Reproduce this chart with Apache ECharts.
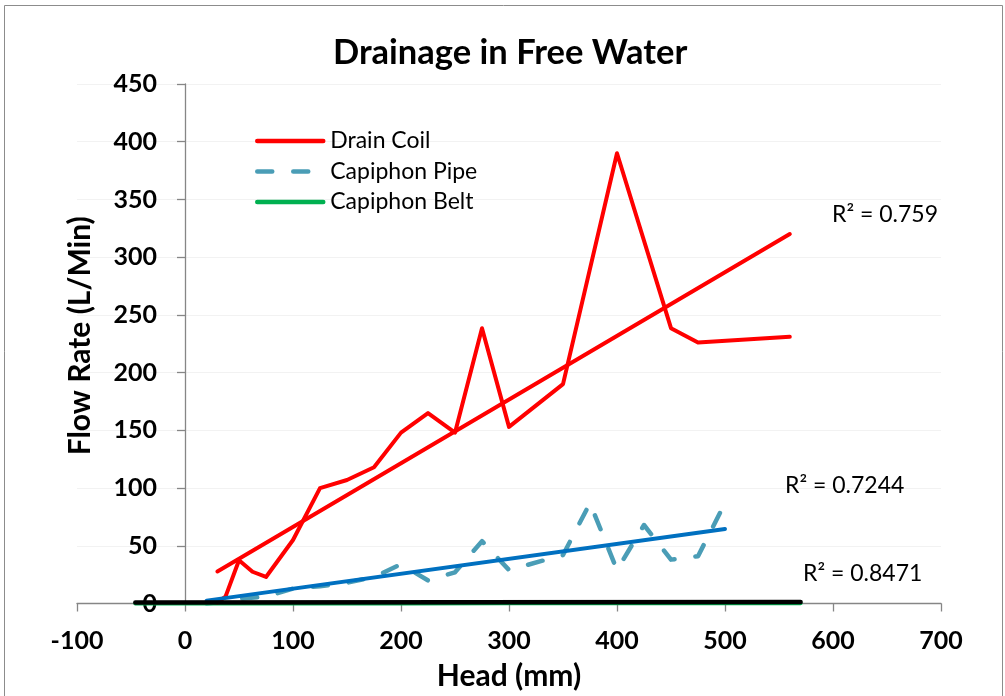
<!DOCTYPE html>
<html>
<head>
<meta charset="utf-8">
<script src="https://cdn.jsdelivr.net/npm/echarts@6/dist/echarts.min.js"></script>
<style>
html,body{margin:0;padding:0;background:#fff;}
#chart{width:1005px;height:696px;}
</style>
</head>
<body>
<div id="chart"></div>
<script>
// ---- data ----
const headCoil = [30, 37.5, 50, 62.5, 75, 100, 125, 150, 175, 200, 225, 250, 275, 300, 350, 400, 450, 475, 560];
const flowCoil = [1, 6, 37.5, 27.5, 23, 55, 100, 107, 118, 148, 165, 148, 238.5, 153, 190, 390, 238.5, 226, 231];

const headPipe = [20, 37.5, 50, 75, 100, 125, 150, 175, 200, 225, 250, 275, 300, 350, 375, 400, 425, 450, 475, 500];
const flowPipe = [0, 2, 4, 6, 13, 15, 18, 23, 34, 20, 27, 54, 29, 42, 87, 29, 68, 38, 41, 87];

const headBelt = [-46, 0, 50, 100, 200, 300, 400, 500, 570];
const flowBelt = [0, 0, 0, 0.1, 0.1, 0.2, 0.2, 0.3, 0.3];

// trendline end points (as drawn in the reference)
const trendCoilX = [30, 560];
const trendCoilY = [27.8, 320];
const trendPipeX = [20, 500];
const trendPipeY = [2.5, 64.6];
const trendBeltX = [-46, 570];
const trendBeltY = [0.8, 1.3];

const r2Labels = ['R² = 0.759', 'R² = 0.7244', 'R² = 0.8471'];
const seriesNames = ['Drain Coil', 'Capiphon Pipe', 'Capiphon Belt'];

const xTicks = {min: -100, max: 700, interval: 100};
const yTicks = {min: 0, max: 450, interval: 50};

function pairs(xs, ys) { return xs.map((x, i) => [x, ys[i]]); }

const FONT = 'Lato, "Open Sans", sans-serif';
const GRID_LEFT = 77, GRID_RIGHT = 941;
// y axis sits at x = 0 (Excel style); offset it from the grid's left edge
const yAxisOffset = -(GRID_RIGHT - GRID_LEFT) * (0 - xTicks.min) / (xTicks.max - xTicks.min);

const chart = echarts.init(document.getElementById('chart'), null, {renderer: 'canvas'});

const option = {
  animation: false,
  backgroundColor: '#ffffff',
  title: {
    text: 'Drainage in Free Water',
    left: 333,
    top: 35,
    padding: 0,
    textStyle: {fontFamily: FONT, fontSize: 34.5, fontWeight: 'bold', color: '#000'}
  },
  legend: {
    orient: 'vertical',
    left: 255,
    top: 129,
    padding: 0,
    itemWidth: 66,
    itemHeight: 14,
    itemGap: 6.5,
    data: seriesNames,
    itemStyle: {opacity: 0},
    lineStyle: {width: 4.5, cap: 'round'},
    textStyle: {fontFamily: FONT, fontSize: 23, lineHeight: 24, color: '#000', padding: [0, 0, 0, 2]}
  },
  grid: {left: GRID_LEFT, right: 1005 - GRID_RIGHT, top: 84, bottom: 92.5, containLabel: false, outerBoundsMode: 'none'},
  xAxis: {
    type: 'value',
    min: xTicks.min, max: xTicks.max, interval: xTicks.interval,
    name: 'Head (mm)',
    nameLocation: 'middle',
    nameGap: 58,
    nameTextStyle: {fontFamily: FONT, fontSize: 30, fontWeight: 'bold', color: '#000'},
    axisLine: {onZero: true, lineStyle: {color: '#868686', width: 1.3}},
    axisTick: {show: true, length: 8, lineStyle: {color: '#868686', width: 1.3}},
    axisLabel: {fontFamily: FONT, fontSize: 25, fontWeight: 'bold', color: '#000', margin: 25},
    splitLine: {show: false}
  },
  yAxis: {
    type: 'value',
    min: yTicks.min, max: yTicks.max, interval: yTicks.interval,
    offset: yAxisOffset,
    name: 'Flow Rate (L/Min)',
    nameLocation: 'middle',
    nameRotate: 90,
    nameGap: 90,
    nameTextStyle: {fontFamily: FONT, fontSize: 30, fontWeight: 'bold', color: '#000', padding: [0, 0, 0, 16]},
    axisLine: {show: true, onZero: false, lineStyle: {color: '#868686', width: 1.3}},
    axisTick: {show: true, length: 8, lineStyle: {color: '#868686', width: 1.3}},
    axisLabel: {fontFamily: FONT, fontSize: 25, fontWeight: 'bold', color: '#000', margin: 28},
    splitLine: {show: true, lineStyle: {color: '#F2F2F2', width: 1}}
  },
  series: [
    {
      name: 'Capiphon Pipe', type: 'line', symbol: 'none', z: 2,
      data: pairs(headPipe, flowPipe),
      color: '#4A9DB6',
      lineStyle: {color: '#4A9DB6', width: 4.5, type: [15, 21], cap: 'round', join: 'round'}
    },
    {
      name: 'Capiphon Belt', type: 'line', symbol: 'none', z: 2, clip: false,
      data: pairs(headBelt, flowBelt),
      color: '#00B050',
      lineStyle: {color: '#00B050', width: 4, cap: 'round', join: 'round'}
    },
    {
      name: 'Drain Coil', type: 'line', symbol: 'none', z: 3,
      data: pairs(headCoil, flowCoil),
      color: '#FF0000',
      lineStyle: {color: '#FF0000', width: 4, cap: 'round', join: 'round'}
    },
    {
      name: 'trend-coil', type: 'line', symbol: 'none', z: 4, silent: true,
      data: pairs(trendCoilX, trendCoilY),
      lineStyle: {color: '#FF0000', width: 4, cap: 'round'}
    },
    {
      name: 'trend-pipe', type: 'line', symbol: 'none', z: 4, silent: true,
      data: pairs(trendPipeX, trendPipeY),
      lineStyle: {color: '#0070C0', width: 4, cap: 'round'}
    },
    {
      name: 'trend-belt', type: 'line', symbol: 'none', z: 4, silent: true,
      data: pairs(trendBeltX, trendBeltY),
      lineStyle: {color: '#000000', width: 4.5, cap: 'round'}
    }
  ],
  graphic: [
    {type: 'rect', z: -10, silent: true, shape: {x: 4.5, y: 5.5, width: 998, height: 720},
     style: {fill: 'none', stroke: '#8C8C8C', lineWidth: 1}},
    {type: 'text', z: 100, left: 832, top: 203, style: {text: r2Labels[0], font: '23px ' + FONT, fill: '#000'}},
    {type: 'text', z: 100, left: 785, top: 474, style: {text: r2Labels[1], font: '23px ' + FONT, fill: '#000'}},
    {type: 'text', z: 100, left: 803, top: 562, style: {text: r2Labels[2], font: '23px ' + FONT, fill: '#000'}}
  ]
};
chart.setOption(option);
</script>
</body>
</html>
